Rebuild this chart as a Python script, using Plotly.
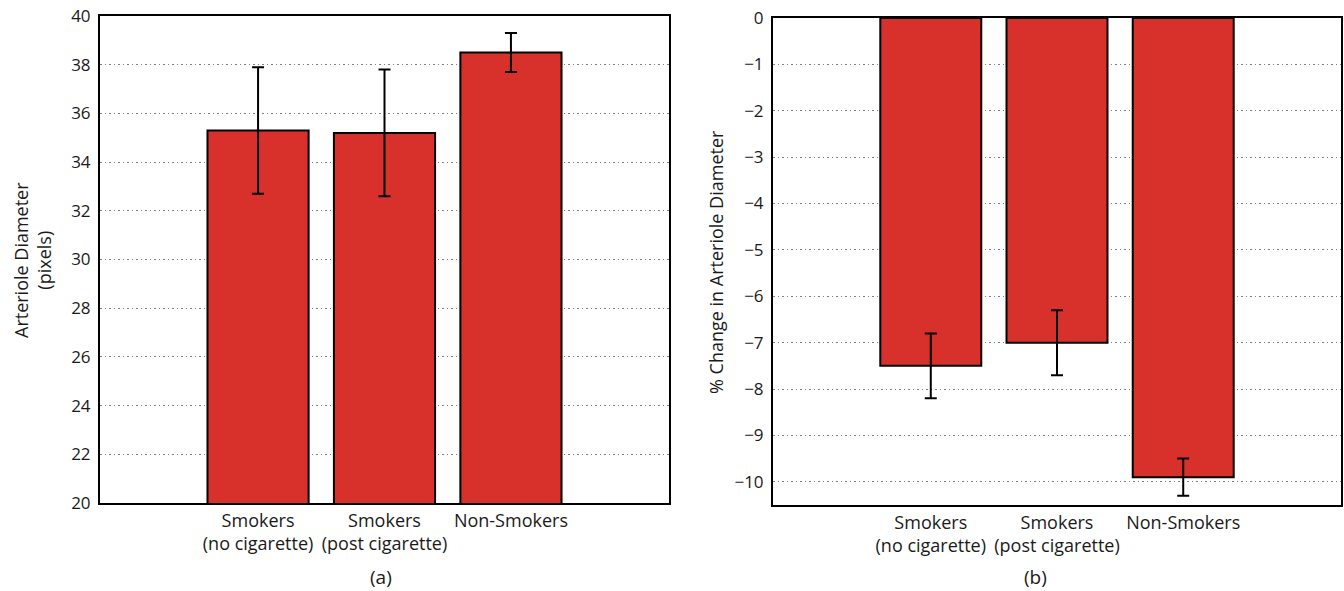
import plotly.graph_objects as go

categories = ["Smokers<br>(no cigarette)", "Smokers<br>(post cigarette)", "Non-Smokers"]
diameter = [35.3, 35.2, 38.5]
diameter_err = [2.6, 2.6, 0.8]
pct_change = [-7.5, -7.0, -9.9]
pct_err = [0.7, 0.7, 0.4]

W, H = 1344, 591
OFF = 0  # body margin removed via post_script
FONT = "Open Sans"
BAR = "#D8302B"
TXT = "#1a1a1a"

fig = go.Figure()
fig.add_trace(go.Bar(x=categories, y=diameter,
                     marker=dict(color=BAR, line=dict(color="black", width=2)),
                     width=0.8,
                     error_y=dict(type="data", array=diameter_err, color="black",
                                  thickness=2, width=6),
                     xaxis="x", yaxis="y", showlegend=False))
fig.add_trace(go.Bar(x=categories, y=pct_change,
                     marker=dict(color=BAR, line=dict(color="black", width=2)),
                     width=0.8,
                     error_y=dict(type="data", array=pct_err, color="black",
                                  thickness=2, width=6),
                     xaxis="x2", yaxis="y2", showlegend=False))

def px_x(a, b):
    return [(a - OFF) / W, (b - OFF) / W]

def px_y(top, bottom):
    return [1 - (bottom - OFF) / H, 1 - (top - OFF) / H]

def pxx(a):
    return (a - OFF) / W

def pxy(a):
    return 1 - (a - OFF) / H

axis_common = dict(showline=True, linecolor="black", linewidth=2, mirror=True,
                   ticks="", zeroline=False, automargin=False,
                   ticklabeloverflow="allow")
grid = dict(showgrid=True, gridcolor="#808080", griddash="1.5px,3px", gridwidth=1.2)

fig.update_layout(
    width=W, height=H,
    margin=dict(l=0, r=0, t=0, b=0),
    paper_bgcolor="white", plot_bgcolor="white",
    font=dict(family=FONT, color=TXT, size=16),
    xaxis=dict(domain=px_x(100, 669), range=[-1.25, 3.25], anchor="y",
               showgrid=False, tickfont=dict(size=18), **axis_common),
    yaxis=dict(domain=px_y(16, 503), range=[20, 40], dtick=2, anchor="x",
               tickfont=dict(size=17), ticklabelstandoff=4, **grid, **axis_common),
    xaxis2=dict(domain=px_x(773, 1341), range=[-1.25, 3.25], anchor="y2",
                showgrid=False, tickfont=dict(size=18), **axis_common),
    yaxis2=dict(domain=px_y(18, 505), range=[-10.5, 0], dtick=1, anchor="x2",
                tickfont=dict(size=17), ticklabelstandoff=4, **grid, **axis_common),
    bargap=0.2,
)

annotations = [
    dict(text="Arteriole Diameter<br>(pixels)", x=pxx(32), y=pxy(260),
         xref="paper", yref="paper", textangle=-90, showarrow=False,
         font=dict(size=18, family=FONT, color=TXT), xanchor="center", yanchor="middle"),
    dict(text="% Change in Arteriole Diameter", x=pxx(716), y=pxy(262),
         xref="paper", yref="paper", textangle=-90, showarrow=False,
         font=dict(size=18, family=FONT, color=TXT), xanchor="center", yanchor="middle"),
    dict(text="(a)", x=pxx(381), y=pxy(577), xref="paper", yref="paper",
         showarrow=False, font=dict(size=19, family=FONT, color=TXT),
         xanchor="center", yanchor="middle"),
    dict(text="(b)", x=pxx(1035), y=pxy(577), xref="paper", yref="paper",
         showarrow=False, font=dict(size=19, family=FONT, color=TXT),
         xanchor="center", yanchor="middle"),
]
fig.update_layout(annotations=annotations)

fig.write_html("out.html",
               config={"displayModeBar": False},
               post_script="document.body.style.margin='0';document.body.style.overflow='hidden';")
